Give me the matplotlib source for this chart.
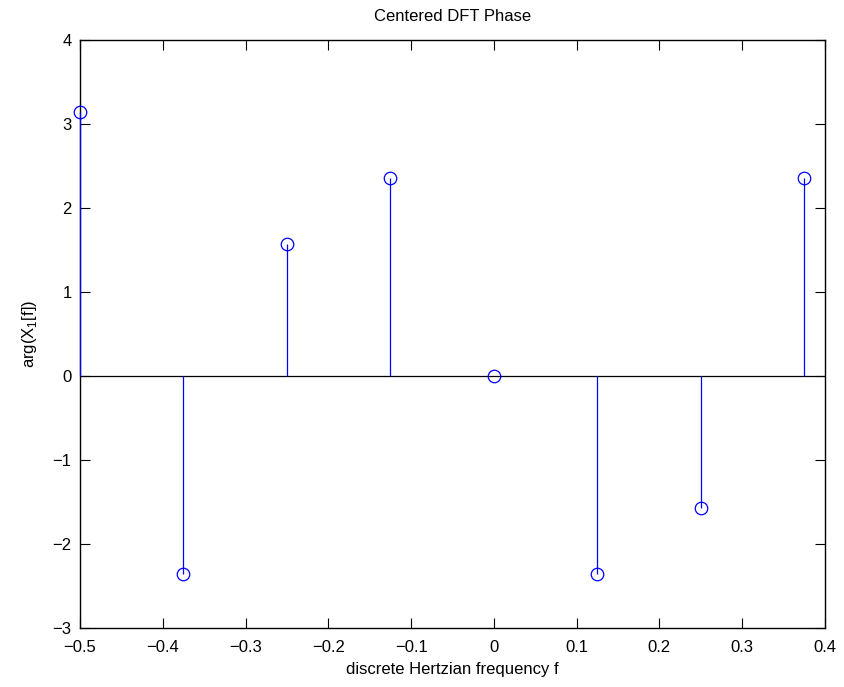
import numpy as np
import matplotlib
matplotlib.use("Agg")
import matplotlib.pyplot as plt

plt.rcParams['font.family'] = ['Liberation Sans', 'DejaVu Sans']

# Centered DFT frequencies and phases
freq = [-0.5, -0.375, -0.25, -0.125, 0.0, 0.125, 0.25, 0.375]
phase = [np.pi, -3 * np.pi / 4, np.pi / 2, 3 * np.pi / 4, 0.0, -3 * np.pi / 4, -np.pi / 2, 3 * np.pi / 4]

fig = plt.figure(figsize=(8.45, 6.87), dpi=100)
ax = fig.add_axes([0.0947, 0.0859, 0.8816, 0.8559])

ax.axhline(0, color='black', lw=0.9, zorder=1)
markerline, stemlines, baseline = ax.stem(freq, phase, basefmt=' ')
plt.setp(stemlines, color='blue', linewidth=0.9, clip_on=False, zorder=3)
plt.setp(markerline, marker='o', markerfacecolor='none', markeredgecolor='blue',
         markersize=9, markeredgewidth=0.9, clip_on=False, zorder=4)

ax.set_xlim(-0.5, 0.4)
ax.set_ylim(-3, 4)
ax.set_xticks(np.arange(-0.5, 0.41, 0.1))
ax.set_xticklabels(['\u22120.5', '\u22120.4', '\u22120.3', '\u22120.2', '\u22120.1', '0', '0.1', '0.2', '0.3', '0.4'])
ax.set_yticks(range(-3, 5))
ax.set_yticklabels(['\u22123', '\u22122', '\u22121', '0', '1', '2', '3', '4'])
ax.tick_params(direction='in', top=True, right=True, length=7, width=0.8, labelsize=12)
ax.tick_params(axis='x', pad=9)
ax.tick_params(axis='y', pad=6)
for s in ax.spines.values():
    s.set_linewidth(1.0)

ax.set_title('Centered DFT Phase', fontsize=12, pad=14)
ax.set_xlabel('discrete Hertzian frequency f', fontsize=12, labelpad=5)
ax.set_ylabel('arg(X$_{\\mathregular{1}}$[f])', fontsize=12, labelpad=10)

fig.savefig('out.png', dpi=100)
